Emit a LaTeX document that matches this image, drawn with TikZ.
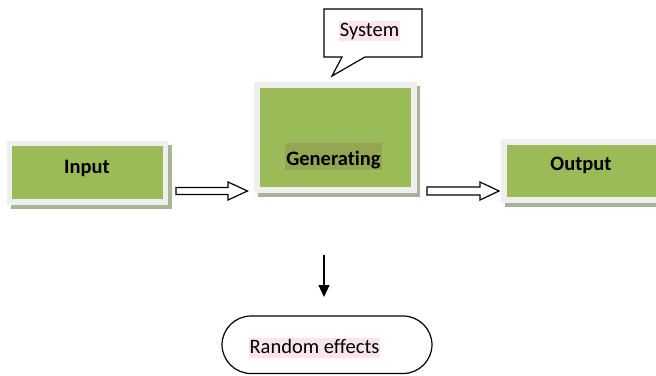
\documentclass[tikz,border=0pt]{standalone}
\usepackage{fontspec}
\setmainfont{Carlito}[Ligatures=NoCommon]
\usetikzlibrary{arrows.meta}
\definecolor{boxgreen}{HTML}{9BBB59}
\definecolor{framegray}{HTML}{EFEFEF}
\definecolor{shadowgray}{HTML}{A9B398}
\definecolor{hlpink}{HTML}{FCE4EC}
\definecolor{hlolive}{HTML}{95A552}
\tikzset{
  lbl/.style={font=\fontsize{20.5}{24}\selectfont, inner sep=0pt, anchor=base},
  boldlbl/.style={lbl, font=\fontsize{20.5}{24}\selectfont\bfseries},
  blockarrow/.style={draw=black, fill=white, line width=1.2pt, line join=miter},
  pinkhl/.style={fill=hlpink, inner xsep=1pt, inner ysep=0pt, text height=15pt, text depth=4.5pt},
}
\begin{document}
\begin{tikzpicture}[x=1pt, y=-1pt]
\clip (0,0) rectangle (656,375);
\fill[white] (0,0) rectangle (656,375);

% Input box
\fill[shadowgray] (11,145) rectangle (172,209);
\fill[framegray] (7,141) rectangle (168,205);
\fill[boxgreen] (12,146) rectangle (163,199);
\node[boldlbl] (input) at (87,173) {Input};

% Generating box
\fill[shadowgray] (257.5,85.5) rectangle (420,196.5);
\fill[framegray] (254,82) rectangle (417,193);
\fill[boxgreen] (260,88) rectangle (411,187);
\fill[hlolive] (285,143) rectangle (382,170);
\node[boldlbl] (gen) at (333.5,165) {Generating};

% Output box
\fill[shadowgray] (505,143) rectangle (700,207);
\fill[framegray] (501,139) rectangle (700,203);
\fill[boxgreen] (507,145) rectangle (700,197);
\node[boldlbl] (output) at (581,170.5) {Output};

% block arrows
\draw[blockarrow] (176,187.5) -- (228,187.5) -- (228,182) -- (247.5,191) -- (228,200) -- (228,194.5) -- (176,194.5) -- cycle;
\draw[blockarrow] (427,187) -- (480,187) -- (480,182) -- (499,191) -- (480,200) -- (480,195) -- (427,195) -- cycle;

% System callout
\draw[line width=1.2pt, fill=white, line join=miter] (324,9) -- (422,9) -- (422,57) -- (365,57) -- (332,76) -- (342,57) -- (324,57) -- cycle;
\node[lbl, pinkhl] (system) at (369.5,36) {System};

% down arrow
\coordinate (d1) at (324,255);
\coordinate (d2) at (324,297);
\draw[line width=1.3pt, -{Triangle[length=12pt,width=11pt]}] (d1) -- (d2);

% Random effects
\draw[line width=1.2pt, fill=white, rounded corners=29pt] (222,316) rectangle (432,373.5);
\node[lbl, pinkhl] (rand) at (314.5,353) {Random effects};
\end{tikzpicture}
\end{document}
